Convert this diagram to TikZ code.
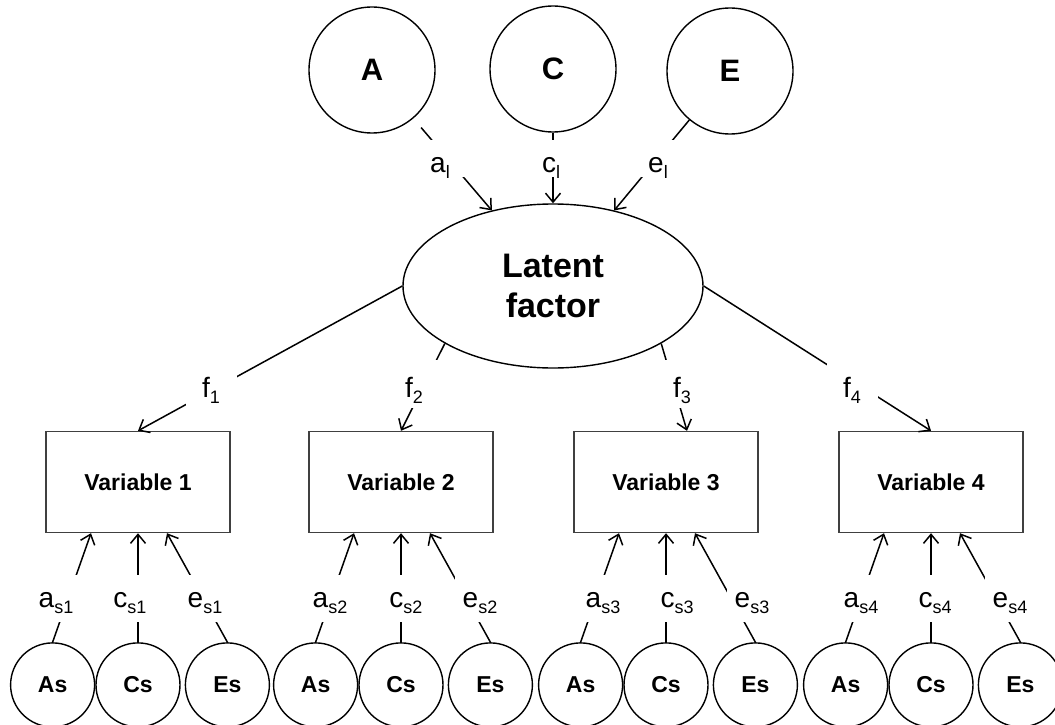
\documentclass[tikz,border=0pt]{standalone}
\usepackage{fontspec}
\setmainfont{Liberation Sans}
\usetikzlibrary{positioning, shapes.geometric, arrows.meta}

\newcommand{\lsub}[1]{\raisebox{-6pt}{\fontsize{18}{18}\selectfont #1}}

\begin{document}
\begin{tikzpicture}[
x=1pt, y=-1pt,
bignode/.style={circle,
  draw, line width=1.4pt,
  minimum size=126pt,
  font=\fontsize{31}{34}\selectfont\bfseries,
},
latentnode/.style={ellipse,
  draw, line width=1.4pt,
  minimum width=300pt, minimum height=164pt,
  align=center,
  font=\fontsize{34}{40}\selectfont\bfseries,
},
varnode/.style={rectangle,
  draw=black!75, line width=1.4pt,
  minimum width=184pt, minimum height=101pt,
  font=\fontsize{23}{27}\selectfont\bfseries,
},
smallnode/.style={circle,
  draw, line width=1.4pt,
  minimum size=84pt, inner sep=0pt,
  font=\fontsize{23}{27}\selectfont\bfseries,
},
mylabel/.style 2 args={
  fill=white, anchor=base,
  inner ysep=0pt, minimum width=51pt,
  text height=#1, text depth=#2,
  font=\fontsize{28}{30}\selectfont,
},
myedge/.style={->, line width=1.5pt},
>={Straight Barb[length=9pt,width=15pt]}
]
\useasboundingbox (0,0) rectangle (1055,725);

\node[bignode] (A) at (372,70) {A};
\node[bignode] (C) at (553,69) {C};
\node[bignode] (E) at (730,71) {E};

\node[latentnode] (lf) at (553,286) {Latent\\factor};

\node[varnode] (v1) at (138,482) {Variable 1};
\node[varnode] (v2) at (401,482) {Variable 2};
\node[varnode] (v3) at (666,482) {Variable 3};
\node[varnode] (v4) at (931,482) {Variable 4};

\node[smallnode, below=109pt of v1] (cs1) {Cs};
\node[smallnode, left=0pt of cs1] (as1) {As};
\node[smallnode, right=4pt of cs1] (es1) {Es};
\node[smallnode, below=109pt of v2] (cs2) {Cs};
\node[smallnode, left=0pt of cs2] (as2) {As};
\node[smallnode, right=4pt of cs2] (es2) {Es};
\node[smallnode, below=109pt of v3] (cs3) {Cs};
\node[smallnode, left=0pt of cs3] (as3) {As};
\node[smallnode, right=4pt of cs3] (es3) {Es};
\node[smallnode, below=109pt of v4] (cs4) {Cs};
\node[smallnode, left=0pt of cs4] (as4) {As};
\node[smallnode, right=4pt of cs4] (es4) {Es};

% ACE -> latent factor
\draw[myedge, shorten <=12pt] (A) -- (lf.129);
\draw[myedge] (C) -- (lf.north);
\draw[myedge] (E) -- (lf.51);
\node[mylabel={32pt}{5pt}] (al) at (440,172) {a\lsub{l}};
\node[mylabel={32pt}{5pt}] (cl) at (551,172) {c\lsub{l}};
\node[mylabel={32pt}{5pt}] (el) at (658,172) {e\lsub{l}};

% latent factor -> variables
\draw[myedge] (lf.west) -- (v1.north);
\draw[myedge] (lf.208) -- (v2.north);
\draw[myedge] (lf.332) -- ([xshift=21pt]v3.north);
\draw[myedge] (lf.east) -- (v4.north);
\node[mylabel={37pt}{11pt}] (f1) at (211,397) {f\lsub{1}};
\node[mylabel={37pt}{11pt}] (f2) at (414,397) {f\lsub{2}};
\node[mylabel={37pt}{11pt}] (f3) at (682,397) {f\lsub{3}};
\node[mylabel={37pt}{11pt}] (f4) at (852,397) {f\lsub{4}};

% specific factors -> variables
\draw[myedge] (as1.north) -- ([xshift=-47pt]v1.south);
\draw[myedge] (cs1.north) -- (v1.south);
\draw[myedge] (es1.north) -- ([xshift=29pt]v1.south);
\draw[myedge] (as2.north) -- ([xshift=-47pt]v2.south);
\draw[myedge] (cs2.north) -- (v2.south);
\draw[myedge] (es2.north) -- ([xshift=29pt]v2.south);
\draw[myedge] (as3.north) -- ([xshift=-47pt]v3.south);
\draw[myedge] (cs3.north) -- (v3.south);
\draw[myedge] (es3.north) -- ([xshift=29pt]v3.south);
\draw[myedge] (as4.north) -- ([xshift=-47pt]v4.south);
\draw[myedge] (cs4.north) -- (v4.south);
\draw[myedge] (es4.north) -- ([xshift=29pt]v4.south);

\node[mylabel={32pt}{15pt}] (as1l) at (56,607) {a\lsub{s1}};
\node[mylabel={32pt}{15pt}] (cs1l) at (130,607) {c\lsub{s1}};
\node[mylabel={32pt}{15pt}] (es1l) at (205,607) {e\lsub{s1}};
\node[mylabel={32pt}{15pt}] (as2l) at (330,607) {a\lsub{s2}};
\node[mylabel={32pt}{15pt}] (cs2l) at (406,607) {c\lsub{s2}};
\node[mylabel={32pt}{15pt}] (es2l) at (480,607) {e\lsub{s2}};
\node[mylabel={32pt}{15pt}] (as3l) at (603,607) {a\lsub{s3}};
\node[mylabel={32pt}{15pt}] (cs3l) at (677,607) {c\lsub{s3}};
\node[mylabel={32pt}{15pt}] (es3l) at (752,607) {e\lsub{s3}};
\node[mylabel={32pt}{15pt}] (as4l) at (861,607) {a\lsub{s4}};
\node[mylabel={32pt}{15pt}] (cs4l) at (935,607) {c\lsub{s4}};
\node[mylabel={32pt}{15pt}] (es4l) at (1010,607) {e\lsub{s4}};
\end{tikzpicture}
\end{document}
